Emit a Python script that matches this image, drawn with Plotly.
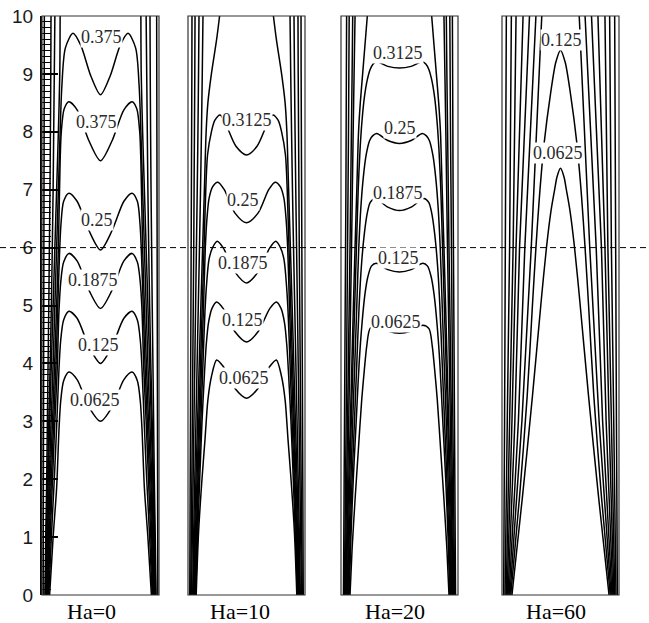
import plotly.graph_objects as go

# ---------------- data ----------------
PANEL_TITLES = ["Ha=0", "Ha=10", "Ha=20", "Ha=60"]
Y_TICKS = [0, 1, 2, 3, 4, 5, 6, 7, 8, 9, 10]

# Panel 1 (Ha=0): closed contours, left half (foot -> centre); right half is the mirror image
P1_LEVELS = ["0.0625", "0.125", "0.1875", "0.25", "0.375", "0.375"]
P1_LABEL_X = [0.45, 0.48, 0.44, 0.47, 0.47, 0.51]
P1_LABEL_Y = [3.37, 4.32, 5.44, 6.48, 8.17, 9.63]
P1_CLOSED_X = [
    [0.065, 0.095, 0.125, 0.145, 0.16, 0.185, 0.23, 0.30, 0.40, 0.5],
    [0.058, 0.08, 0.105, 0.125, 0.145, 0.16, 0.185, 0.23, 0.30, 0.40, 0.5],
    [0.052, 0.07, 0.09, 0.11, 0.13, 0.145, 0.16, 0.185, 0.23, 0.30, 0.40, 0.5],
    [0.047, 0.062, 0.08, 0.1, 0.12, 0.135, 0.15, 0.162, 0.185, 0.23, 0.30, 0.40, 0.5],
    [0.042, 0.055, 0.07, 0.09, 0.108, 0.125, 0.14, 0.155, 0.165, 0.19, 0.23, 0.30, 0.40, 0.5],
    [0.037, 0.048, 0.062, 0.078, 0.095, 0.11, 0.125, 0.14, 0.155, 0.17, 0.2, 0.265, 0.33, 0.42, 0.5],
]
P1_CLOSED_Y = [
    [0, 1.0, 1.85, 2.85, 3.35, 3.7, 3.85, 3.72, 3.25, 3.0],
    [0, 1.0, 2.0, 2.9, 3.9, 4.4, 4.75, 4.9, 4.78, 4.3, 4.0],
    [0, 1.0, 2.0, 3.0, 3.9, 4.9, 5.4, 5.75, 5.9, 5.77, 5.27, 4.95],
    [0, 1.0, 2.0, 3.0, 4.0, 5.0, 5.9, 6.4, 6.8, 6.94, 6.8, 6.3, 5.96],
    [0, 1.0, 2.0, 3.0, 4.0, 5.0, 6.0, 7.5, 8.0, 8.4, 8.52, 8.38, 7.85, 7.5],
    [0, 1.0, 2.0, 3.0, 4.0, 5.0, 6.0, 7.0, 8.0, 8.8, 9.45, 9.7, 9.5, 8.95, 8.64],
]
# open contours (top -> bottom, left side; mirrored on the right)
P1_OPEN_X = [
    [0.155, 0.152, 0.14, 0.125, 0.11, 0.095, 0.08, 0.066, 0.053, 0.042, 0.033],
    [0.11, 0.105, 0.1, 0.095, 0.088, 0.08, 0.07, 0.058, 0.047, 0.037, 0.029],
    [0.077, 0.075, 0.072, 0.068, 0.063, 0.058, 0.052, 0.046, 0.04, 0.032, 0.025],
    [0.02, 0.019, 0.018, 0.017, 0.016, 0.015, 0.014, 0.013, 0.012, 0.011, 0.01],
]
P1_OPEN_Y = [
    [10, 9, 8, 7, 6, 5, 4, 3, 2, 1, 0],
    [10, 9, 8, 7, 6, 5, 4, 3, 2, 1, 0],
    [10, 9, 8, 7, 6, 5, 4, 3, 2, 1, 0],
    [10, 9, 8, 7, 6, 5, 4, 3, 2, 1, 0],
]

# Panel 2 (Ha=10)
P2_LEVELS = ["0.0625", "0.125", "0.1875", "0.25", "0.3125"]
P2_LABEL_X = [0.48, 0.47, 0.47, 0.47, 0.5]
P2_LABEL_Y = [3.75, 4.75, 5.73, 6.82, 8.2]
P2_CLOSED_X = [
    [0.07, 0.09, 0.117, 0.145, 0.17, 0.2, 0.245, 0.3, 0.4, 0.5],
    [0.065, 0.082, 0.1, 0.12, 0.14, 0.155, 0.175, 0.205, 0.245, 0.3, 0.4, 0.5],
    [0.06, 0.075, 0.092, 0.11, 0.128, 0.145, 0.16, 0.18, 0.21, 0.25, 0.3, 0.4, 0.5],
    [0.055, 0.07, 0.085, 0.1, 0.117, 0.133, 0.148, 0.162, 0.18, 0.21, 0.255, 0.31, 0.4, 0.5],
    [0.05, 0.063, 0.077, 0.092, 0.107, 0.122, 0.137, 0.152, 0.167, 0.2, 0.23, 0.275, 0.33, 0.41, 0.5],
]
P2_CLOSED_Y = [
    [0, 1.07, 1.93, 2.68, 3.37, 3.77, 4.06, 3.95, 3.57, 3.4],
    [0, 1.0, 2.0, 3.0, 3.8, 4.3, 4.7, 4.95, 5.06, 4.95, 4.55, 4.37],
    [0, 1.0, 2.0, 3.0, 4.0, 4.9, 5.4, 5.8, 6.0, 6.11, 6.0, 5.58, 5.39],
    [0, 1.0, 2.0, 3.0, 4.0, 5.0, 6.0, 6.5, 6.85, 7.05, 7.13, 7.0, 6.6, 6.43],
    [0, 1, 2, 3, 4, 5, 6, 7, 7.6, 8.0, 8.2, 8.29, 8.1, 7.75, 7.6],
]
P2_OPEN_X = [
    [0.27, 0.245, 0.2, 0.17, 0.155, 0.14, 0.125, 0.11, 0.096, 0.082, 0.068, 0.056, 0.045],
    [0.128, 0.122, 0.115, 0.107, 0.098, 0.088, 0.078, 0.068, 0.058, 0.048, 0.04],
    [0.094, 0.09, 0.085, 0.079, 0.072, 0.065, 0.058, 0.051, 0.044, 0.037, 0.03],
    [0.06, 0.058, 0.055, 0.052, 0.049, 0.045, 0.041, 0.037, 0.033, 0.028, 0.023],
    [0.034, 0.033, 0.031, 0.029, 0.027, 0.025, 0.023, 0.021, 0.019, 0.017, 0.015],
]
P2_OPEN_Y = [
    [10, 9.6, 9.0, 8.5, 8.0, 7, 6, 5, 4, 3, 2, 1, 0],
    [10, 9, 8, 7, 6, 5, 4, 3, 2, 1, 0],
    [10, 9, 8, 7, 6, 5, 4, 3, 2, 1, 0],
    [10, 9, 8, 7, 6, 5, 4, 3, 2, 1, 0],
    [10, 9, 8, 7, 6, 5, 4, 3, 2, 1, 0],
]

# Panel 3 (Ha=20)
P3_LEVELS = ["0.0625", "0.125", "0.1875", "0.25", "0.3125"]
P3_LABEL_X = [0.47, 0.49, 0.49, 0.5, 0.49]
P3_LABEL_Y = [4.72, 5.82, 6.94, 8.06, 9.36]
P3_CLOSED_X = [
    [0.077, 0.095, 0.12, 0.148, 0.177, 0.2, 0.22, 0.248, 0.3, 0.4, 0.5],
    [0.07, 0.085, 0.105, 0.13, 0.155, 0.18, 0.205, 0.23, 0.26, 0.3, 0.4, 0.5],
    [0.064, 0.078, 0.095, 0.115, 0.135, 0.155, 0.175, 0.2, 0.225, 0.25, 0.29, 0.4, 0.5],
    [0.058, 0.07, 0.085, 0.1, 0.118, 0.135, 0.152, 0.17, 0.19, 0.215, 0.245, 0.27, 0.305, 0.4, 0.5],
    [0.052, 0.063, 0.075, 0.088, 0.102, 0.117, 0.132, 0.147, 0.163, 0.18, 0.2, 0.225, 0.25, 0.275, 0.305, 0.4, 0.5],
]
P3_CLOSED_Y = [
    [0, 0.8, 1.64, 2.5, 3.37, 3.9, 4.3, 4.6, 4.66, 4.56, 4.52],
    [0, 1, 2, 3, 4, 4.7, 5.2, 5.5, 5.68, 5.73, 5.62, 5.58],
    [0, 1, 2, 3, 4, 5, 5.7, 6.25, 6.6, 6.78, 6.85, 6.7, 6.64],
    [0, 1, 2, 3, 4, 5, 6, 6.7, 7.2, 7.6, 7.85, 7.93, 7.97, 7.85, 7.8],
    [0, 1, 2, 3, 4, 5, 6, 7, 7.7, 8.2, 8.6, 8.9, 9.08, 9.17, 9.21, 9.13, 9.1],
]
P3_OPEN_X = [
    [0.225, 0.205, 0.185, 0.165, 0.15, 0.135, 0.12, 0.106, 0.093, 0.08, 0.067, 0.055, 0.045],
    [0.12, 0.112, 0.104, 0.097, 0.09, 0.082, 0.074, 0.066, 0.058, 0.05, 0.04],
    [0.1, 0.095, 0.089, 0.083, 0.077, 0.07, 0.063, 0.056, 0.049, 0.042, 0.034],
    [0.07, 0.067, 0.064, 0.06, 0.056, 0.052, 0.048, 0.044, 0.039, 0.034, 0.028],
    [0.048, 0.046, 0.044, 0.042, 0.039, 0.036, 0.033, 0.03, 0.027, 0.024, 0.021],
]
P3_OPEN_Y = [
    [10, 9.5, 9, 8.5, 8, 7, 6, 5, 4, 3, 2, 1, 0],
    [10, 9, 8, 7, 6, 5, 4, 3, 2, 1, 0],
    [10, 9, 8, 7, 6, 5, 4, 3, 2, 1, 0],
    [10, 9, 8, 7, 6, 5, 4, 3, 2, 1, 0],
    [10, 9, 8, 7, 6, 5, 4, 3, 2, 1, 0],
]

# Panel 4 (Ha=60)
P4_LEVELS = ["0.0625", "0.125"]
P4_LABEL_X = [0.48, 0.505]
P4_LABEL_Y = [7.64, 9.58]
P4_CLOSED_X = [
    [0.085, 0.175, 0.26, 0.336, 0.38, 0.42, 0.45, 0.47, 0.5],
    [0.075, 0.15, 0.215, 0.26, 0.29, 0.32, 0.36, 0.415, 0.46, 0.5],
]
P4_CLOSED_Y = [
    [0, 1.7, 3.43, 5.1, 6.0, 6.65, 7.0, 7.22, 7.37],
    [0, 1.7, 3.43, 5.0, 6.0, 6.88, 7.8, 8.66, 9.2, 9.41],
]
P4_OPEN_X = [
    [0.34, 0.295, 0.25, 0.17, 0.068],
    [0.29, 0.245, 0.195, 0.14, 0.06],
    [0.235, 0.195, 0.15, 0.11, 0.052],
    [0.18, 0.15, 0.12, 0.085, 0.044],
    [0.12, 0.105, 0.095, 0.065, 0.036],
    [0.08, 0.072, 0.065, 0.045, 0.026],
    [0.037, 0.034, 0.03, 0.022, 0.014],
]
P4_OPEN_Y = [[10, 8, 6, 3, 0]] * 7

DASHED_Y = 6

# ---------------- layout constants (pixels of the 649x623 page) ----------------
W, H = 649, 623
PANEL_PX = [(42, 159), (188, 305), (341, 458), (502, 619)]
Y_BOTTOM_PX, Y_TOP_PX = 595, 16
TITLE_CX_PX = [91, 240, 395, 556]
TITLE_Y_PX = 611

SERIF = "Liberation Serif, Times New Roman, serif"
SANS = "Liberation Sans, Arial, sans-serif"

panels = [
    (P1_LEVELS, P1_LABEL_X, P1_LABEL_Y, P1_CLOSED_X, P1_CLOSED_Y, P1_OPEN_X, P1_OPEN_Y),
    (P2_LEVELS, P2_LABEL_X, P2_LABEL_Y, P2_CLOSED_X, P2_CLOSED_Y, P2_OPEN_X, P2_OPEN_Y),
    (P3_LEVELS, P3_LABEL_X, P3_LABEL_Y, P3_CLOSED_X, P3_CLOSED_Y, P3_OPEN_X, P3_OPEN_Y),
    (P4_LEVELS, P4_LABEL_X, P4_LABEL_Y, P4_CLOSED_X, P4_CLOSED_Y, P4_OPEN_X, P4_OPEN_Y),
]

fig = go.Figure()
LINE = dict(color="black", width=1.5)
annotations = []
shapes = []

for i, (levels, lx, ly, cx, cy, ox, oy) in enumerate(panels):
    xa = "x" if i == 0 else f"x{i+1}"
    # closed contours: left half + mirrored right half
    for xs, ys in zip(cx, cy):
        full_x = list(xs) + [1 - v for v in reversed(xs[:-1])]
        full_y = list(ys) + list(reversed(ys[:-1]))
        fig.add_trace(go.Scatter(x=full_x, y=full_y, mode="lines", xaxis=xa, yaxis="y",
                                 line=dict(LINE, shape="spline", smoothing=0.8),
                                 hoverinfo="skip", showlegend=False))
    # open contours on both walls
    for xs, ys in zip(ox, oy):
        for side in (xs, [1 - v for v in xs]):
            fig.add_trace(go.Scatter(x=side, y=ys, mode="lines", xaxis=xa, yaxis="y",
                                     line=dict(LINE, shape="spline" if i < 3 else "linear", smoothing=0.8),
                                     hoverinfo="skip", showlegend=False))
    # contour labels
    for txt, x, y in zip(levels, lx, ly):
        annotations.append(dict(text=txt, x=x, y=y, xref=xa, yref="y", showarrow=False,
                                font=dict(family=SERIF, size=18, color="#2a2a2a"),
                                bgcolor="white", borderpad=0, xanchor="center", yanchor="middle"))
    # panel title
    annotations.append(dict(text=PANEL_TITLES[i], x=TITLE_CX_PX[i] / W, y=(H - TITLE_Y_PX) / H,
                            xref="paper", yref="paper", showarrow=False,
                            font=dict(family=SERIF, size=22, color="black"),
                            xanchor="center", yanchor="middle"))
    # panel frame
    shapes.append(dict(type="rect", xref=f"{xa} domain", yref="y domain", x0=0, x1=1, y0=0, y1=1,
                       line=dict(color="#333333", width=1.2), layer="above"))

# dashed horizontal line across the whole figure
shapes.append(dict(type="line", xref="paper", yref="y", x0=0, x1=1, y0=DASHED_Y, y1=DASHED_Y,
                   line=dict(color="black", width=1, dash="6px,4px"), layer="above"))

y_dom = [1 - Y_BOTTOM_PX / H, 1 - Y_TOP_PX / H]
layout = dict(
    width=W, height=H,
    margin=dict(l=0, r=0, t=0, b=0),
    paper_bgcolor="white", plot_bgcolor="white",
    showlegend=False,
    annotations=annotations, shapes=shapes,
    yaxis=dict(domain=y_dom, range=[0, 10], anchor="x", tickmode="array", tickvals=Y_TICKS,
               ticktext=[str(v) for v in Y_TICKS],
               ticks="inside", ticklen=16, tickwidth=2, tickcolor="black",
               minor=dict(ticks="inside", ticklen=9, dtick=0.1, tickwidth=1, tickcolor="black",
                          showgrid=False),
               showline=True, linewidth=2, linecolor="black",
               showgrid=False, zeroline=False, automargin=False,
               tickfont=dict(family=SANS, size=19, color="#1a1a1a"), ticklabelstandoff=3),
)
for i, (a, b) in enumerate(PANEL_PX):
    key = "xaxis" if i == 0 else f"xaxis{i+1}"
    layout[key] = dict(domain=[a / W, b / W], range=[0, 1], anchor="y", visible=False,
                       showgrid=False, zeroline=False, fixedrange=True)

fig.update_layout(**layout)
fig.write_html("out.html", config={"displayModeBar": False},
               post_script="document.body.style.margin='0';document.body.style.padding='0';")
